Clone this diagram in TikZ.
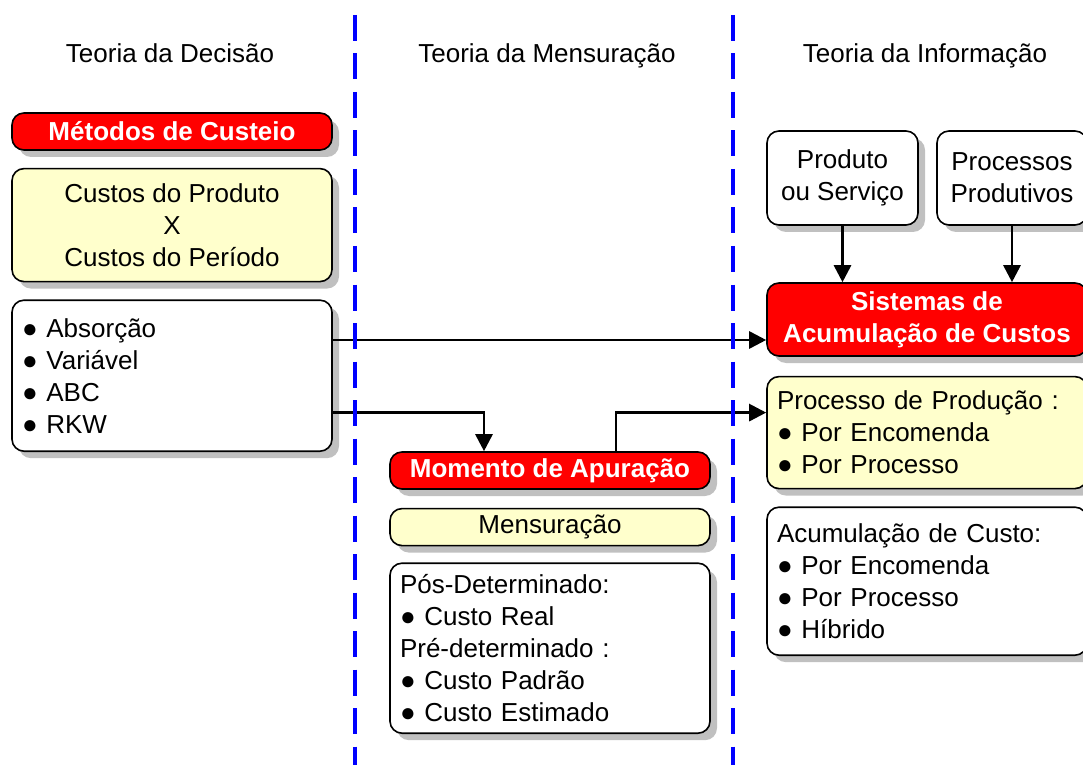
\documentclass[tikz,border=0pt]{standalone}
\usepackage{fontspec}
\setmainfont{Liberation Sans}
\usepackage{tikz}
\usetikzlibrary{shapes.geometric, arrows.meta, positioning, shadows}
\definecolor{boxred}{RGB}{255,0,0}
\definecolor{boxyellow}{RGB}{255,255,204}
\definecolor{shadowgray}{RGB}{192,192,192}
\definecolor{lineblue}{RGB}{0,0,255}
\newcommand{\bul}{●\ }
\tikzset{
	box/.style={
		rectangle,
		rounded corners=6pt,
		draw=black,
		line width=0.8pt,
		inner xsep=5pt,
		inner ysep=1pt,
		align=center,
		font=\fontsize{13}{16}\selectfont,
		drop shadow={shadow xshift=3.5pt, shadow yshift=-3.5pt, fill=shadowgray, opacity=1}
	},
	title/.style={
		box,
		minimum width=160pt,
		minimum height=18.5pt,
		fill=boxred,
		text=white,
		font=\fontsize{13}{16}\selectfont\bfseries
	},
	note/.style={
		box,
		minimum width=160pt,
		fill=boxyellow
	},
	plain/.style={
		box,
		minimum width=160pt,
		fill=white
	},
	listbox/.style={
		box,
		text width=150pt,
		align=left
	},
	theory/.style={
		font=\fontsize{13}{16}\selectfont,
		text height=10pt,
		text depth=3pt
	},
	divider/.style={
		draw=lineblue,
		line width=1.6pt,
		dash pattern=on 13pt off 6.25pt
	},
	arrow/.style={line width=1.4pt,-{Triangle[length=8.5pt,width=8.5pt]}}
}

\begin{document}
\begin{tikzpicture}[x=0.5pt, y=-0.5pt, node distance=8.5pt]
	\useasboundingbox (0,0) rectangle (1083,765);

	% headings
	\node (decisao) [theory] at (170,56) {Teoria da Decisão};
	\node (mensura) [theory] at (547,56) {Teoria da Mensuração};
	\node (informa) [theory] at (925,56) {Teoria da Informação};

	% left column
	\node (metodos) [title] at (172,131.5) {Métodos de Custeio};
	\node (custos) [note, minimum height=56.5pt, below=of metodos] {Custos do Produto\\X\\Custos do Período};
	\node (metlist) [listbox, fill=white, minimum height=75.5pt, below=of custos] {\bul Absorção\\\bul Variável\\\bul ABC\\\bul RKW};

	% middle column
	\node (momento) [title] at (550,470.5) {Momento de Apuração};
	\node (mensur) [note, minimum height=18.5pt, below=9pt of momento] {Mensuração};
	\node (determ) [listbox, fill=white, minimum height=85pt, below=8pt of mensur] {Pós-Determinado:\\\bul Custo Real\\Pré-determinado :\\\bul Custo Padrão\\\bul Custo Estimado};

	% right column
	\node (produto) [plain, minimum width=75.5pt, minimum height=47pt] at (842.5,178) {Produto\\ou Serviço};
	\node (processos) [plain, minimum width=75pt, minimum height=47pt] at (1012,178) {Processos\\Produtivos};
	\node (sistemas) [title, minimum height=36.5pt] at (927,319.5) {Sistemas de\\Acumulação de Custos};
	\node (processo) [listbox, fill=boxyellow, minimum height=56pt, below=9.5pt of sistemas] {Processo de Produção :\\\bul Por Encomenda\\\bul Por Processo};
	\node (acum) [listbox, fill=white, minimum height=74pt, below=8.5pt of processo] {Acumulação de Custo:\\\bul Por Encomenda\\\bul Por Processo\\\bul Híbrido};

	% connectors
	\draw [arrow] ([yshift=-10.25pt]sistemas.west -| metlist.east) -- ([yshift=-10.25pt]sistemas.west);
	\draw [arrow] ([yshift=-18.25pt]metlist.east) -| ([xshift=-33pt]momento.north);
	\draw [arrow] ([xshift=33pt]momento.north) |- ([yshift=10pt]processo.west);
	\draw [arrow] (produto.south) -- (produto.south |- sistemas.north);
	\draw [arrow] (processos.south) -- (processos.south |- sistemas.north);

	% dividers
	\draw [divider] (355,15) -- (355,765);
	\draw [divider] (733,15) -- (733,765);
\end{tikzpicture}
\end{document}
